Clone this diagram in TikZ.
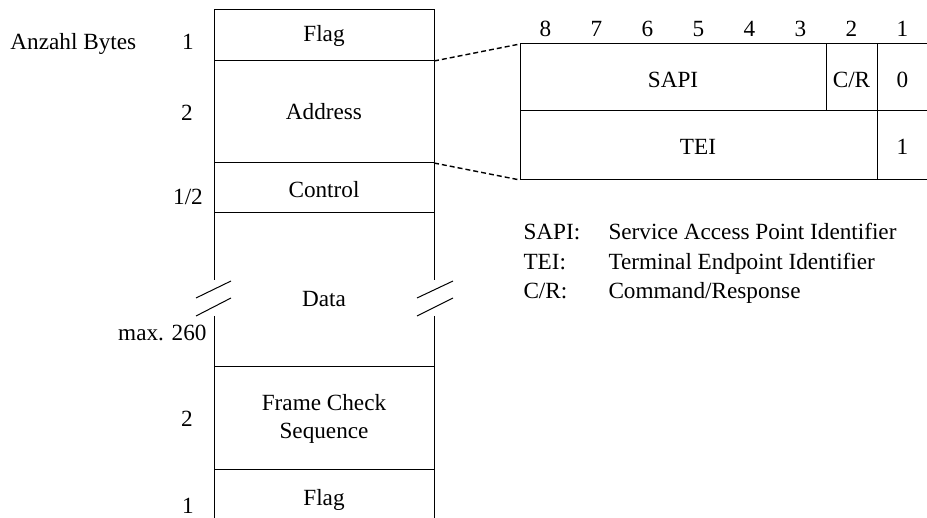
\documentclass[tikz,border=0pt]{standalone}
\usepackage{fontspec}
\setmainfont{Liberation Serif}
\usetikzlibrary{positioning,calc}

\begin{document}
\begin{tikzpicture}[x=0.5pt,y=-0.5pt,font=\fontsize{11.6}{14}\selectfont,line width=0.5pt]
\tikzset{lbl/.style={inner sep=0pt,anchor=base}, legend/.style={inner sep=0pt,anchor=base west}}
\useasboundingbox (0,0) rectangle (927,518);
% frame with break at data
\draw (214,280) -- (214,10) -- (434,10) -- (434,280);
\draw (214,316) -- (214,518);
\draw (434,316) -- (434,518);
\foreach \y in {61,163,213,367,469} {
  \draw (214,\y) -- (434,\y);
}
\draw (196,298) -- (231,281);
\draw (196,316) -- (231,298);
\draw (417,298) -- (453,281);
\draw (417,316) -- (453,298);
\node[lbl] (flag1) at (324,42) {Flag};
\node[lbl] (addr) at (324,120) {Address};
\node[lbl] (ctrl) at (324,198) {Control};
\node[lbl] (data) at (324,307) {Data};
\node[inner sep=0pt,align=center] (fcs) at (324,419) {Frame Check\\Sequence};
\node[lbl] (flag2) at (324,505) {Flag};
% byte counts
\node[legend] (anz) at (10,50) {Anzahl Bytes};
\node[lbl] (n1) at (188,50) {1};
\node[lbl] (n2) at (187,121) {2};
\node[lbl] (n3) at (188,205) {1/2};
\node[lbl,anchor=base east] (n4) at (207,341) {max. 260};
\node[lbl] (n5) at (187,427) {2};
\node[lbl] (n6) at (188,513) {1};
% address octets
\coordinate (atop) at (434,61);
\coordinate (abot) at (434,163);
\coordinate (otop) at (520,44);
\coordinate (obot) at (520,180);
\draw[dashed,dash pattern=on 2.5pt off 1.5pt,line width=0.7pt] (atop) -- (otop);
\draw[dashed,dash pattern=on 2.5pt off 1.5pt,line width=0.7pt] (abot) -- (obot);
\draw (927,44) -- (otop) -- (obot) -- (927,180);
\draw (520,111) -- (927,111);
\draw (826,44) -- (826,111);
\draw (877,44) -- (877,180);
\foreach \b in {1,...,8} {
  \node[lbl] (bit\b) at ({928-51*\b+25.5},37) {\b};
}
\node[lbl] (sapi) at (673,88) {SAPI};
\node[lbl] (cr) at (851.5,88) {C/R};
\node[lbl] (ea0) at (902.5,88) {0};
\node[lbl] (tei) at (698,155) {TEI};
\node[lbl] (ea1) at (902.5,155) {1};
% legend
\node[legend] (k1) at (523,240) {SAPI:};
\node[legend] (v1) at (608,240) {Service Access Point Identifier};
\node[legend] (k2) at (523,270) {TEI:};
\node[legend] (v2) at (608,270) {Terminal Endpoint Identifier};
\node[legend] (k3) at (523,299) {C/R:};
\node[legend] (v3) at (608,299) {Command/Response};
\end{tikzpicture}
\end{document}
